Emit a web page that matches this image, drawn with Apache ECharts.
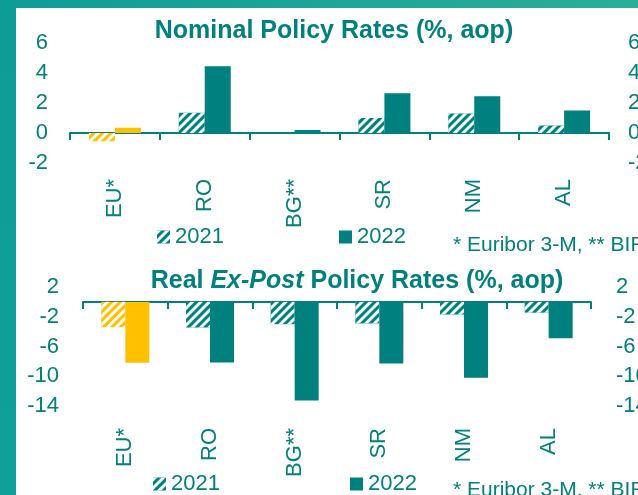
<!DOCTYPE html>
<html><head><meta charset="utf-8">
<script src="https://cdn.jsdelivr.net/npm/echarts@6/dist/echarts.min.js"></script>
<style>html,body{margin:0;padding:0;background:#fff}#c{width:638px;height:495px}</style>
</head><body><div id="c"></div>
<script>
// ---- data ----
const categories = ['EU*', 'RO', 'BG**', 'SR', 'NM', 'AL'];
const nominal2021 = [-0.55, 1.35, 0, 1.0, 1.3, 0.5];
const nominal2022 = [0.35, 4.45, 0.2, 2.65, 2.45, 1.5];
const real2021 = [-3.4, -3.45, -3.0, -2.9, -1.7, -1.45];
const real2022 = [-8.2, -8.15, -13.25, -8.3, -10.2, -4.9];
const nominalAxis = { min: -2, max: 6, interval: 2 };
const realAxis = { min: -14, max: 2, interval: 4 };
const yearNames = ['2021', '2022'];
const titleTop = 'Nominal Policy Rates (%, aop)';
const titleBottomParts = ['Real ', 'Ex-Post', ' Policy Rates (%, aop)'];
const footnote = '* Euribor 3-M, ** BIR';

// ---- style ----
const TEAL = '#00807E';
const YELLOW = '#FFC000';
const FONT = '"Liberation Sans", Arial, sans-serif';
const hatch = {
  symbol: 'rect', symbolSize: 1, symbolKeepAspect: false,
  dashArrayX: [1, 0], dashArrayY: [3, 2.5],
  rotation: -Math.PI / 4, color: 'rgba(255,255,255,0.95)'
};

function items(vals) {
  return vals.map((v, i) => i === 0 ? { value: v, itemStyle: { color: YELLOW } } : v);
}

const grids = [
  { left: 70, width: 539, top: 43, height: 120 },
  { left: 83, width: 508, top: 287, height: 119 }
];
grids.forEach(g => { g.containLabel = false; g.outerBoundsMode = 'none'; });

function xAxes(gi, labelMargin) {
  return [
    { gridIndex: gi, type: 'category', data: categories, position: 'bottom',
      axisLine: { onZero: true, lineStyle: { color: TEAL, width: 2 } },
      axisTick: { show: true, length: 7, lineStyle: { color: TEAL, width: 2 } },
      axisLabel: { show: false }, splitLine: { show: false } },
    { gridIndex: gi, type: 'category', data: categories, position: 'bottom',
      axisLine: { show: false, onZero: false }, axisTick: { show: false },
      axisLabel: { rotate: 90, margin: labelMargin, color: TEAL, fontSize: 22, fontFamily: FONT, interval: 0 },
      splitLine: { show: false } }
  ];
}
function yAxes(gi, ax, leftMargin, rightMargin) {
  const base = { gridIndex: gi, type: 'value', min: ax.min, max: ax.max, interval: ax.interval,
    axisLine: { show: false }, axisTick: { show: false }, splitLine: { show: false } };
  return [
    Object.assign({}, base, { position: 'left',
      axisLabel: { margin: leftMargin, color: TEAL, fontSize: 22, fontFamily: FONT } }),
    Object.assign({}, base, { position: 'right',
      axisLabel: { margin: rightMargin, color: TEAL, fontSize: 22, fontFamily: FONT } })
  ];
}

function barSeries(name, vals, xi, yi, width, hatched) {
  const s = { name: name, type: 'bar', xAxisIndex: xi, yAxisIndex: yi,
    data: items(vals), barWidth: width, barGap: '0%',
    itemStyle: { color: TEAL }, emphasis: { disabled: true } };
  if (hatched) s.itemStyle.decal = hatch;
  return s;
}

function legendItem(name, left, top) {
  return { data: [name], left: left, top: top, padding: 0, icon: 'rect',
    itemWidth: 13, itemHeight: 13, selectedMode: false,
    textStyle: { color: TEAL, fontSize: 22, fontFamily: FONT } };
}

const option = {
  animation: false,
  backgroundColor: '#ffffff',
  grid: grids,
  xAxis: xAxes(0, 16).concat(xAxes(1, 22)),
  yAxis: yAxes(0, nominalAxis, 22, 19).concat(yAxes(1, realAxis, 24, 25)),
  series: [
    barSeries(yearNames[0], nominal2021, 0, 0, 26, true),
    barSeries(yearNames[1], nominal2022, 0, 0, 26, false),
    barSeries(yearNames[0], real2021, 2, 2, 24, true),
    barSeries(yearNames[1], real2022, 2, 2, 24, false)
  ],
  legend: [
    legendItem(yearNames[0], 157, 226),
    legendItem(yearNames[1], 339, 226),
    legendItem(yearNames[0], 153, 473),
    legendItem(yearNames[1], 350, 473)
  ],
  graphic: [
    { type: 'rect', z: -10, shape: { x: 0, y: 0, width: 16, height: 495 },
      style: { fill: new echarts.graphic.LinearGradient(0, 0, 0, 1, [{ offset: 0, color: '#0E9C98' }, { offset: 1, color: '#0FA09C' }]) } },
    { type: 'rect', z: -10, shape: { x: 0, y: 0, width: 638, height: 8 },
      style: { fill: new echarts.graphic.LinearGradient(0, 0, 1, 0, [{ offset: 0, color: '#0E9C98' }, { offset: 1, color: '#2BAE96' }]) } },
    { type: 'text', x: 334, y: 19,
      style: { text: titleTop, font: 'bold 25px ' + FONT, fill: TEAL,
        align: 'center', textAlign: 'center', verticalAlign: 'top', textVerticalAlign: 'top' } },
    { type: 'text', x: 357, y: 269,
      style: { text: '{a|' + titleBottomParts[0] + '}{b|' + titleBottomParts[1] + '}{a|' + titleBottomParts[2] + '}',
        font: 'bold 25px ' + FONT, fill: TEAL,
        rich: { a: { font: 'bold 25px ' + FONT, fill: TEAL }, b: { font: 'italic bold 25px ' + FONT, fill: TEAL } },
        align: 'center', textAlign: 'center', verticalAlign: 'top', textVerticalAlign: 'top' } },
    { type: 'text', x: 453, y: 235,
      style: { text: footnote, font: '21px ' + FONT, fill: TEAL, verticalAlign: 'top', textVerticalAlign: 'top' } },
    { type: 'text', x: 453, y: 480,
      style: { text: footnote, font: '21px ' + FONT, fill: TEAL, verticalAlign: 'top', textVerticalAlign: 'top' } }
  ]
};

const chart = echarts.init(document.getElementById('c'), null, { renderer: 'canvas' });
chart.setOption(option);
</script>
</body></html>
